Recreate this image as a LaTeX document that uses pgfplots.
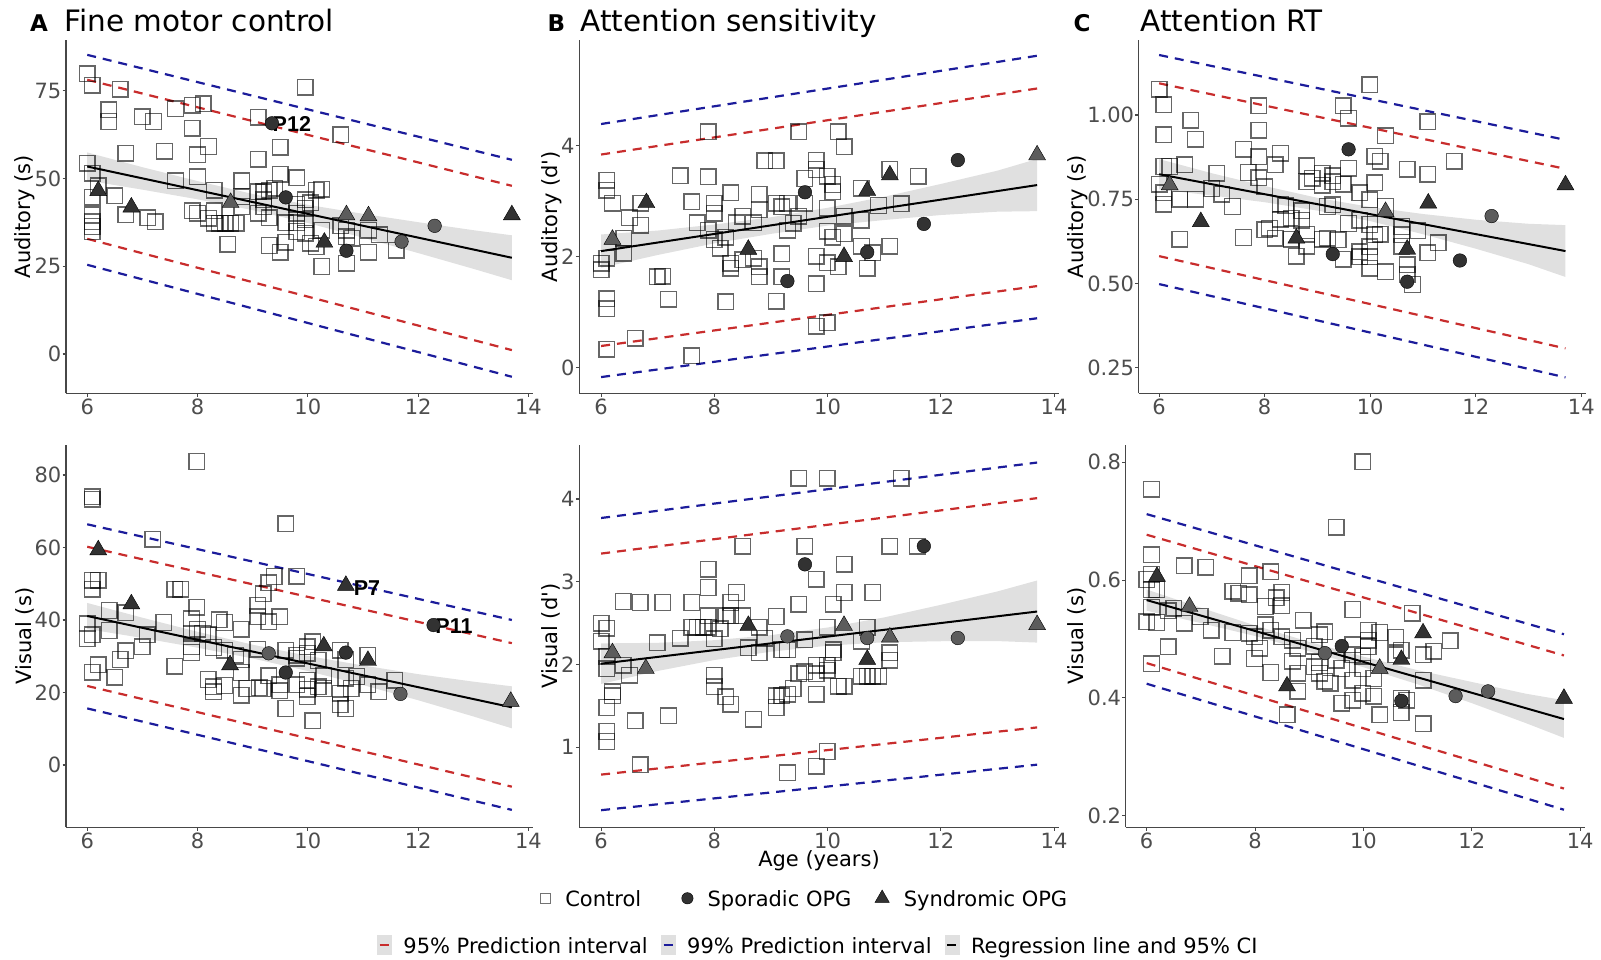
\documentclass[border=0pt]{standalone}
\usepackage{fontspec}
\setmainfont{DejaVu Sans}
\newfontfamily\plainfont{DejaVu Sans}[Ligatures=TeXOff]
\newfontfamily\annotfont{Liberation Sans}
\usepackage{pgfplots}
\pgfplotsset{compat=1.18}

\definecolor{pired}{RGB}{200,45,45}
\definecolor{piblue}{RGB}{28,28,155}
\definecolor{axgray}{RGB}{77,77,77}
\definecolor{mkdark}{RGB}{50,50,50}
\definecolor{mklight}{RGB}{92,92,92}

\newcommand{\fs}[1]{\fontsize{#1}{#1}\selectfont}
\newcommand{\lstrut}{\rule[-3pt]{0pt}{21.2pt}}

\pgfplotsset{
  panel/.style={
    scale only axis, anchor=south west,
    xmin=5.615, xmax=14.085,
    axis lines=left,
    axis line style={-, draw=black!72, line width=1.1pt},
    tick align=outside,
    major tick length=3.5pt,
    tick style={draw=black!72, line width=1.1pt},
    xtick={6,8,10,12,14},
    ticklabel style={font=\fs{21}, text=axgray},
    xticklabel style={inner sep=2pt},
    yticklabel style={inner sep=1pt},
    /pgf/number format/assume math mode=true,
  },
  ctrl/.style={only marks, mark=square, mark size=7.8pt,
    mark options={draw=black, draw opacity=0.6, line width=1.4pt}},
  spor/.style={only marks, mark=*, mark size=6.8pt, mark options={draw=none, fill=#1}},
  synd/.style={only marks, mark=triangle*, mark size=9.8pt, mark options={draw=none, fill=#1}},
  band/.style={draw=none, fill=black!40, fill opacity=0.3},
  fit/.style={black, line width=2pt},
  pi95/.style={pired, line width=2.2pt, dash pattern=on 9pt off 7pt},
  pi99/.style={piblue, line width=2.2pt, dash pattern=on 9pt off 7pt},
}

\begin{document}
\begin{tikzpicture}

% ---------------- A: fine motor control, auditory ----------------
\begin{axis}[panel, at={(66pt,566.7pt)}, width=467.1pt, height=353.3pt,
  ymin=-11.2, ymax=89.43, ytick={0,25,50,75}]
\addplot[ctrl] coordinates {(6.0,79.8)(6.09,76.6)(6.39,69.5)(6.39,66.2)(6.6,75.4)(7.0,67.6)(7.2,66.2)(7.6,69.8)(7.9,70.8)(8.1,71.2)(7.9,64.3)(9.1,67.4)(9.95,76.0)(10.6,62.4)(6.0,54.3)(6.09,51.5)(6.7,57.2)(7.4,57.8)(8.0,56.7)(8.2,59.1)(8.0,50.5)(9.1,55.5)(9.5,58.9)(9.5,51.2)(9.8,50.2)(7.6,49.3)(8.8,49.3)(8.3,46.7)(6.2,47.9)(6.09,44.6)(6.5,45.0)(6.7,39.6)(7.1,38.8)(6.09,39.6)(6.09,37.7)(6.09,36.3)(6.09,34.9)(7.23,37.7)(7.9,40.8)(8.0,40.1)(8.2,38.7)(8.3,40.8)(8.3,37.2)(8.4,37.2)(8.5,37.2)(8.6,37.2)(8.7,37.2)(8.55,31.3)(8.8,44.8)(8.8,42.0)(9.1,40.1)(9.1,46.2)(9.2,46.2)(9.3,46.7)(9.4,47.2)(9.2,43.9)(9.2,42.0)(9.3,38.8)(9.3,30.9)(9.5,29.0)(9.6,37.4)(9.6,31.8)(9.8,42.7)(9.8,40.1)(9.8,37.4)(9.8,34.9)(9.95,43.9)(9.95,41.5)(9.95,38.2)(9.95,34.4)(10.05,43.1)(10.05,31.5)(10.15,46.7)(10.25,46.9)(10.25,35.3)(10.15,30.6)(10.25,24.9)(10.6,36.5)(10.7,35.3)(10.7,33.4)(10.8,33.0)(10.7,25.8)(11.1,35.3)(11.1,29.0)(11.3,33.9)(11.6,29.6)};
\addplot[band] coordinates {(6,57.4)(7,53.2)(8,49.25)(9,45.57)(10,42.49)(11,39.92)(12,37.54)(13,35.26)(13.7,33.8)(13.7,21.0)(13,24.26)(12,28.74)(11,33.12)(10,37.29)(9,40.97)(8,44.05)(7,46.8)(6,49.4)};
\addplot[fit] coordinates {(6,53.4)(13.7,27.4)};
\addplot[pi95] coordinates {(6,78.1)(13.7,47.9)};
\addplot[pi95] coordinates {(6,32.8)(13.7,1.1)};
\addplot[pi99] coordinates {(6,85.2)(13.7,55.3)};
\addplot[pi99] coordinates {(6,25.4)(13.7,-6.5)};
\addplot[spor=mkdark] coordinates {(9.35,65.7)(9.6,44.6)(10.7,29.4)};
\addplot[spor=mklight] coordinates {(11.7,32.0)(12.3,36.5)};
\addplot[synd=mkdark] coordinates {(6.2,46.5)(6.8,41.8)(10.3,31.8)(13.7,39.6)};
\addplot[synd=mklight] coordinates {(8.6,43.1)(10.7,39.6)(11.1,39.3)};
\node[anchor=west, inner sep=0pt, font=\annotfont\bfseries\fs{21.5}] at (axis cs:9.36,65.5) {P12};
\end{axis}

% ---------------- B: attention sensitivity, auditory ----------------
\begin{axis}[panel, at={(579.3pt,566.7pt)}, width=479.6pt, height=353.3pt,
  ymin=-0.462, ymax=5.904, ytick={0,2,4}]
\addplot[ctrl] coordinates {(6.0,1.88)(6.0,1.76)(6.1,3.38)(6.1,3.2)(6.1,1.24)(6.1,1.06)(6.1,0.33)(6.1,1.97)(6.2,2.96)(6.4,2.33)(6.4,2.06)(6.5,2.7)(6.7,2.96)(6.7,2.57)(6.6,0.53)(6.99,1.64)(7.09,1.65)(7.19,1.23)(7.4,3.46)(7.6,2.99)(7.6,0.21)(7.7,2.61)(7.89,4.25)(7.89,3.44)(7.89,2.48)(8.0,2.31)(8.0,2.96)(8.0,2.78)(8.1,2.15)(8.2,2.35)(8.2,1.19)(8.29,3.15)(8.29,1.88)(8.29,1.79)(8.39,2.61)(8.5,2.73)(8.5,1.94)(8.69,2.61)(8.69,1.97)(8.79,3.12)(8.79,2.85)(8.79,1.82)(8.79,1.64)(8.89,3.73)(9.09,3.73)(9.09,2.96)(9.19,2.9)(9.29,2.96)(9.19,2.05)(9.19,1.64)(9.09,1.2)(9.29,2.48)(9.39,2.6)(9.49,4.25)(9.6,3.41)(9.6,2.96)(9.49,2.73)(9.8,3.74)(9.8,3.57)(9.8,2.01)(9.8,1.51)(9.8,0.75)(9.99,3.45)(9.99,2.87)(9.99,2.46)(9.99,1.89)(9.99,0.81)(10.09,3.3)(10.09,3.17)(10.09,2.35)(10.19,4.25)(10.29,3.98)(10.29,2.73)(10.29,2.41)(10.19,1.82)(10.59,3.23)(10.59,2.66)(10.6,2.19)(10.7,1.79)(10.8,2.07)(10.9,2.92)(11.1,3.57)(11.1,2.19)(11.3,2.95)(11.6,3.45)};
\addplot[band] coordinates {(6,2.40)(7,2.47)(8,2.58)(9,2.71)(10,2.88)(11,3.08)(12,3.31)(13,3.55)(13.7,3.76)(13.7,2.82)(13,2.81)(12,2.75)(11,2.66)(10,2.56)(9,2.41)(8,2.24)(7,2.03)(6,1.80)};
\addplot[fit] coordinates {(6,2.10)(13.7,3.29)};
\addplot[pi95] coordinates {(6,3.84)(13.7,5.03)};
\addplot[pi95] coordinates {(6,0.39)(13.7,1.47)};
\addplot[pi99] coordinates {(6,4.39)(13.7,5.62)};
\addplot[pi99] coordinates {(6,-0.17)(13.7,0.89)};
\addplot[spor=mkdark] coordinates {(9.29,1.56)(9.6,3.16)(10.7,2.08)(11.7,2.59)(12.3,3.74)};
\addplot[synd=mkdark] coordinates {(6.8,2.97)(8.6,2.13)(10.29,2.0)(10.7,3.19)(11.1,3.47)};
\addplot[synd=mklight] coordinates {(6.2,2.31)(13.7,3.83)};
\end{axis}

% ---------------- C: attention RT, auditory ----------------
\begin{axis}[panel, at={(1138.8pt,566.7pt)}, width=447pt, height=353.3pt,
  ymin=0.1738, ymax=1.2226, ytick={0.25,0.5,0.75,1}, yticklabels={0.25,0.50,0.75,1.00}]
\addplot[ctrl] coordinates {(6.0,1.077)(6.09,1.030)(6.09,0.941)(6.0,0.794)(6.09,0.847)(6.2,0.847)(6.09,0.769)(6.09,0.735)(6.39,0.750)(6.39,0.631)(6.49,0.852)(6.6,0.985)(6.69,0.928)(6.69,0.750)(7.0,0.782)(7.09,0.827)(7.19,0.765)(7.39,0.728)(7.6,0.898)(7.6,0.636)(7.69,0.829)(7.89,1.027)(7.89,0.955)(7.89,0.876)(7.89,0.814)(8.0,0.787)(8.0,0.659)(8.09,0.664)(8.2,0.852)(8.2,0.634)(8.3,0.886)(8.3,0.735)(8.4,0.730)(8.3,0.690)(8.5,0.693)(8.5,0.631)(8.6,0.581)(8.7,0.715)(8.7,0.688)(8.8,0.849)(8.8,0.802)(8.8,0.646)(8.8,0.611)(8.9,0.812)(9.09,0.827)(9.09,0.792)(9.09,0.631)(9.19,0.634)(9.19,0.728)(9.29,0.819)(9.29,0.802)(9.29,0.733)(9.39,0.629)(9.49,1.027)(9.49,0.794)(9.49,0.572)(9.59,0.990)(9.59,0.842)(9.59,0.678)(9.8,0.769)(9.8,0.688)(9.8,0.594)(9.8,0.579)(9.99,1.089)(9.99,0.748)(9.99,0.675)(9.99,0.609)(9.99,0.579)(9.99,0.545)(10.09,0.878)(10.19,0.863)(10.09,0.799)(10.09,0.644)(10.19,0.646)(10.29,0.938)(10.29,0.728)(10.29,0.535)(10.6,0.669)(10.6,0.644)(10.6,0.611)(10.7,0.839)(10.7,0.555)(10.7,0.525)(10.8,0.497)(10.9,0.656)(11.09,0.980)(11.09,0.824)(11.09,0.591)(11.29,0.621)(11.59,0.863)};
\addplot[band] coordinates {(6,0.869)(7,0.827)(8,0.789)(9,0.754)(10,0.727)(11,0.706)(12,0.689)(13,0.677)(13.7,0.673)(13.7,0.519)(13,0.557)(12,0.603)(11,0.646)(10,0.685)(9,0.716)(8,0.741)(7,0.761)(6,0.779)};
\addplot[fit] coordinates {(6,0.824)(13.7,0.596)};
\addplot[pi95] coordinates {(6,1.094)(13.7,0.840)};
\addplot[pi95] coordinates {(6,0.581)(13.7,0.307)};
\addplot[pi99] coordinates {(6,1.178)(13.7,0.926)};
\addplot[pi99] coordinates {(6,0.498)(13.7,0.221)};
\addplot[spor=mkdark] coordinates {(9.59,0.898)(9.29,0.587)(10.7,0.505)(11.7,0.568)};
\addplot[spor=mklight] coordinates {(12.3,0.700)};
\addplot[synd=mkdark] coordinates {(6.79,0.683)(8.6,0.634)(10.7,0.601)(11.1,0.738)(13.7,0.792)};
\addplot[synd=mklight] coordinates {(6.2,0.792)(10.29,0.713)};
\end{axis}

% ---------------- A: fine motor control, visual ----------------
\begin{axis}[panel, at={(66pt,132.7pt)}, width=467.1pt, height=382.3pt,
  ymin=-17.2, ymax=88.28, ytick={0,20,40,60,80}]
\addplot[ctrl] coordinates {(6.0,38.9)(6.0,34.9)(6.09,74.0)(6.09,73.3)(6.09,51.0)(6.2,51.0)(6.09,48.5)(6.09,35.9)(6.09,25.6)(6.2,27.6)(6.4,42.6)(6.4,37.1)(6.5,24.2)(6.6,29.1)(6.7,42.0)(6.7,31.5)(7.0,32.6)(7.09,35.9)(7.19,62.3)(7.39,39.3)(7.59,48.5)(7.7,48.5)(7.59,27.3)(7.89,40.3)(7.89,36.3)(7.89,32.6)(7.89,31.0)(7.99,43.5)(7.99,83.7)(8.0,37.4)(8.09,36.3)(8.19,35.9)(8.19,23.6)(8.29,21.6)(8.29,20.2)(8.49,21.9)(8.39,40.0)(8.49,39.3)(8.29,32.4)(8.49,31.7)(8.69,30.3)(8.79,29.1)(8.79,37.4)(8.79,25.5)(8.79,19.3)(8.89,21.1)(9.09,44.1)(9.09,40.9)(9.19,47.2)(9.29,50.3)(9.39,52.0)(9.09,31.9)(9.29,39.5)(9.49,40.9)(9.6,66.5)(9.19,21.1)(9.12,21.3)(9.29,24.6)(9.49,22.1)(9.49,20.5)(9.6,31.7)(9.6,15.6)(9.8,52.1)(9.8,30.3)(9.8,29.4)(9.8,22.1)(9.99,32.6)(9.99,30.8)(9.99,23.4)(9.99,20.9)(9.99,18.9)(10.09,34.0)(10.09,12.2)(10.19,28.8)(10.19,21.6)(10.29,24.8)(10.29,21.1)(10.59,31.7)(10.59,19.8)(10.59,16.6)(10.69,29.0)(10.69,23.9)(10.69,15.6)(10.79,21.1)(10.89,24.4)(11.09,30.3)(11.09,22.1)(11.29,20.2)(11.58,23.4)};
\addplot[band] coordinates {(6,44.7)(7,40.63)(8,36.75)(9,33.18)(10,30.11)(11,27.44)(12,25.06)(13,22.99)(13.7,21.7)(13.7,10.1)(13,13.39)(12,17.86)(11,22.04)(10,25.91)(9,29.38)(8,32.35)(7,35.03)(6,37.5)};
\addplot[fit] coordinates {(6,41.1)(13.7,15.9)};
\addplot[pi95] coordinates {(6,60.2)(13.7,33.6)};
\addplot[pi95] coordinates {(6,21.8)(13.7,-6.0)};
\addplot[pi99] coordinates {(6,66.4)(13.7,40.0)};
\addplot[pi99] coordinates {(6,15.6)(13.7,-12.4)};
\addplot[spor=mkdark] coordinates {(9.6,25.5)(10.69,31.0)(12.28,38.6)};
\addplot[spor=mklight] coordinates {(9.29,30.8)(11.68,19.6)};
\addplot[synd=mkdark] coordinates {(6.2,59.3)(6.8,44.4)(8.59,27.6)(10.29,32.8)(10.69,49.5)(11.09,28.8)};
\addplot[synd=mklight] coordinates {(13.68,17.5)};
\node[anchor=west, inner sep=0pt, font=\annotfont\bfseries\fs{21.5}] at (axis cs:10.83,48.7) {P7};
\node[anchor=west, inner sep=0pt, font=\annotfont\bfseries\fs{21.5}] at (axis cs:12.31,38.4) {P11};
\end{axis}

% ---------------- B: attention sensitivity, visual ----------------
\begin{axis}[panel, at={(579.3pt,132.7pt)}, width=479.6pt, height=382.3pt,
  ymin=0.0334, ymax=4.652, ytick={1,2,3,4}]
\addplot[ctrl] coordinates {(6.0,2.50)(6.0,2.28)(6.1,2.44)(6.1,2.10)(6.1,1.95)(6.2,1.67)(6.2,1.62)(6.1,1.48)(6.1,1.19)(6.1,1.07)(6.39,2.76)(6.39,1.99)(6.5,1.87)(6.6,1.32)(6.69,2.75)(6.69,0.79)(6.99,2.26)(7.09,2.75)(7.19,1.38)(7.4,2.32)(7.6,2.75)(7.6,2.45)(7.7,2.45)(7.8,2.45)(7.89,2.45)(7.89,3.15)(7.89,2.93)(7.89,2.59)(8.0,2.31)(8.0,1.87)(8.0,1.73)(8.1,2.43)(8.2,2.59)(8.29,2.59)(8.5,2.59)(8.29,2.75)(8.39,2.87)(8.2,1.61)(8.29,1.52)(8.5,3.43)(8.6,2.20)(8.69,1.34)(8.79,2.45)(8.79,2.14)(8.89,2.32)(9.09,2.58)(9.09,1.62)(9.09,1.48)(9.19,2.18)(9.29,2.18)(9.19,1.62)(9.29,1.64)(9.39,1.71)(9.29,0.69)(9.49,2.73)(9.49,1.89)(9.6,2.30)(9.6,3.43)(9.49,4.25)(9.6,1.91)(9.8,3.03)(9.8,1.99)(9.8,1.89)(9.8,1.64)(9.8,0.77)(9.99,4.25)(9.99,2.45)(9.99,1.99)(9.99,1.93)(9.99,0.95)(10.1,2.73)(10.1,2.18)(10.1,2.14)(10.19,1.74)(10.29,1.74)(10.29,3.21)(10.29,2.87)(10.6,2.28)(10.7,2.45)(10.6,1.86)(10.7,1.86)(10.8,1.86)(10.9,1.86)(10.8,2.87)(11.1,3.43)(11.1,2.14)(11.1,2.05)(11.3,4.25)(11.58,3.43)};
\addplot[band] coordinates {(6,2.255)(7,2.262)(8,2.294)(9,2.355)(10,2.447)(11,2.569)(12,2.721)(13,2.883)(13.7,3.015)(13.7,2.265)(13,2.283)(12,2.281)(11,2.269)(10,2.227)(9,2.155)(8,2.054)(7,1.922)(6,1.765)};
\addplot[fit] coordinates {(6,2.01)(13.7,2.64)};
\addplot[pi95] coordinates {(6,3.34)(13.7,4.01)};
\addplot[pi95] coordinates {(6,0.67)(13.7,1.24)};
\addplot[pi99] coordinates {(6,3.77)(13.7,4.44)};
\addplot[pi99] coordinates {(6,0.24)(13.7,0.79)};
\addplot[spor=mkdark] coordinates {(9.6,3.21)(11.7,3.43)};
\addplot[spor=mklight] coordinates {(9.29,2.34)(10.7,2.32)(12.3,2.32)};
\addplot[synd=mkdark] coordinates {(8.6,2.47)(10.7,2.06)};
\addplot[synd=mklight] coordinates {(6.2,2.14)(6.79,1.95)(10.29,2.47)(11.1,2.33)(13.7,2.48)};
\end{axis}

% ---------------- C: attention RT, visual ----------------
\begin{axis}[panel, at={(1125.8pt,132.7pt)}, width=459pt, height=382.3pt,
  ymin=0.1802, ymax=0.8294, ytick={0.2,0.4,0.6,0.8}, yticklabels={0.2,0.4,0.6,0.8}]
\addplot[ctrl] coordinates {(6.09,0.754)(6.09,0.643)(6.0,0.601)(6.09,0.610)(6.09,0.584)(6.19,0.584)(6.09,0.554)(6.0,0.529)(6.19,0.528)(6.09,0.458)(6.4,0.548)(6.5,0.552)(6.4,0.487)(6.69,0.624)(6.69,0.527)(6.99,0.538)(7.09,0.622)(7.19,0.515)(7.39,0.471)(7.59,0.581)(7.7,0.578)(7.59,0.511)(7.89,0.607)(7.89,0.575)(7.89,0.510)(7.99,0.504)(7.99,0.467)(8.09,0.484)(8.19,0.555)(8.19,0.524)(8.29,0.515)(8.29,0.614)(8.29,0.443)(8.39,0.570)(8.49,0.579)(8.49,0.556)(8.49,0.504)(8.59,0.371)(8.69,0.498)(8.69,0.462)(8.79,0.484)(8.79,0.442)(8.79,0.411)(8.89,0.532)(9.09,0.488)(9.19,0.507)(9.29,0.512)(9.09,0.453)(9.19,0.460)(9.19,0.442)(9.29,0.428)(9.39,0.425)(9.5,0.690)(9.5,0.464)(9.6,0.450)(9.6,0.391)(9.8,0.550)(9.8,0.490)(9.8,0.473)(9.8,0.430)(9.8,0.396)(9.99,0.801)(9.99,0.471)(9.99,0.450)(9.99,0.408)(10.09,0.515)(10.09,0.498)(10.09,0.487)(10.19,0.433)(10.19,0.403)(10.3,0.511)(10.3,0.371)(10.6,0.503)(10.6,0.473)(10.7,0.481)(10.7,0.399)(10.8,0.396)(10.7,0.375)(10.9,0.544)(11.1,0.473)(11.1,0.430)(11.1,0.356)(11.3,0.479)(11.6,0.497)};
\addplot[band] coordinates {(6,0.584)(7,0.553)(8,0.523)(9,0.495)(10,0.470)(11,0.447)(12,0.427)(13,0.407)(13.7,0.396)(13.7,0.332)(13,0.357)(12,0.391)(11,0.423)(10,0.452)(9,0.479)(8,0.505)(7,0.527)(6,0.548)};
\addplot[fit] coordinates {(6,0.566)(13.7,0.364)};
\addplot[pi95] coordinates {(6,0.677)(13.7,0.472)};
\addplot[pi95] coordinates {(6,0.459)(13.7,0.246)};
\addplot[pi99] coordinates {(6,0.712)(13.7,0.508)};
\addplot[pi99] coordinates {(6,0.424)(13.7,0.210)};
\addplot[spor=mkdark] coordinates {(9.6,0.488)(10.7,0.395)};
\addplot[spor=mklight] coordinates {(9.29,0.476)(11.7,0.403)(12.3,0.411)};
\addplot[synd=mkdark] coordinates {(6.19,0.606)(8.59,0.420)(10.7,0.465)(11.1,0.510)(13.7,0.399)};
\addplot[synd=mklight] coordinates {(6.79,0.555)(10.3,0.450)};
\end{axis}

% ---------------- legends ----------------
\begin{axis}[at={(0pt,0pt)}, anchor=south west, scale only axis, width=1601pt, height=960pt,
  xmin=0, xmax=1601, ymin=0, ymax=960, hide axis,
  legend style={at={(540.8/1601,61.7/960)}, anchor=west, draw=none, fill=none,
    inner sep=0pt, outer sep=0pt, legend columns=3, font=\fs{21},
    nodes={inner sep=0pt},
    /tikz/every odd column/.append style={column sep=14.5pt},
    /tikz/every even column/.append style={column sep=23.5pt}},
  legend cell align=left]
\addlegendimage{only marks, mark=square, mark size=5pt, mark options={draw=black, draw opacity=0.55, line width=1.2pt}}
\addlegendentry{Control\hspace{17pt}\lstrut}
\addlegendimage{only marks, mark=*, mark size=5.7pt, mark options={draw=none, fill=mkdark}}
\addlegendentry{Sporadic OPG\lstrut}
\addlegendimage{only marks, mark=triangle*, mark size=8.3pt, mark options={draw=none, fill=mkdark}}
\addlegendentry{Syndromic OPG\lstrut}
\end{axis}

\begin{axis}[at={(0pt,0pt)}, anchor=south west, scale only axis, width=1601pt, height=960pt,
  xmin=0, xmax=1601, ymin=0, ymax=960, hide axis,
  legend style={at={(377/1601,15/960)}, anchor=west, draw=none, fill=none,
    inner sep=0pt, outer sep=0pt, legend columns=3, font=\fs{21},
    nodes={inner sep=0pt},
    /tikz/every odd column/.append style={column sep=12pt},
    /tikz/every even column/.append style={column sep=13pt}},
  legend cell align=left]
\addlegendimage{legend image code/.code={\fill[black!12] (0pt,-9.5pt) rectangle (14pt,9.5pt); \draw[pired, line width=2.2pt] (2.5pt,0pt) -- (11.5pt,0pt);}}
\addlegendentry{95\% Prediction interval\lstrut}
\addlegendimage{legend image code/.code={\fill[black!12] (0pt,-9.5pt) rectangle (14pt,9.5pt); \draw[piblue, line width=2.2pt] (2.5pt,0pt) -- (11.5pt,0pt);}}
\addlegendentry{99\% Prediction interval\lstrut}
\addlegendimage{legend image code/.code={\fill[black!12] (0pt,-9.5pt) rectangle (14pt,9.5pt); \draw[black, line width=2.2pt] (2.5pt,0pt) -- (11.5pt,0pt);}}
\addlegendentry{Regression line and 95\% CI\lstrut}
\end{axis}

% ---------------- titles and axis labels ----------------
\node[anchor=base, inner sep=0pt, font=\bfseries\fs{23}] at (39pt,928.3pt) {A};
\node[anchor=base west, inner sep=0pt, font=\fs{29.5}] at (64.5pt,928.3pt) {Fine motor control};
\node[anchor=base, inner sep=0pt, font=\bfseries\fs{23}] at (556.3pt,928.3pt) {B};
\node[anchor=base west, inner sep=0pt, font=\fs{29.5}] at (580.5pt,928.3pt) {Attention sensitivity};
\node[anchor=base, inner sep=0pt, font=\bfseries\fs{23}] at (1082pt,928.3pt) {C};
\node[anchor=base west, inner sep=0pt, font=\fs{29.5}] at (1140.5pt,928.3pt) {Attention RT};

\node[rotate=90, inner sep=0pt, font=\fs{21}] at (24.5pt,743.3pt) {Auditory (s)};
\node[rotate=90, inner sep=0pt, font=\plainfont\fs{21}] at (551.3pt,743.3pt) {Auditory (d')};
\node[rotate=90, inner sep=0pt, font=\fs{21}] at (1077.5pt,743.3pt) {Auditory (s)};
\node[rotate=90, inner sep=0pt, font=\fs{21}] at (24.5pt,323.9pt) {Visual (s)};
\node[rotate=90, inner sep=0pt, font=\plainfont\fs{21}] at (551.3pt,323.9pt) {Visual (d')};
\node[rotate=90, inner sep=0pt, font=\fs{21}] at (1077.2pt,323.9pt) {Visual (s)};
\node[anchor=base, inner sep=0pt, font=\fs{21}] at (819pt,93pt) {Age (years)};

\pgfresetboundingbox
\path[use as bounding box] (0pt,0pt) rectangle (1601pt,960pt);
\end{tikzpicture}
\end{document}
